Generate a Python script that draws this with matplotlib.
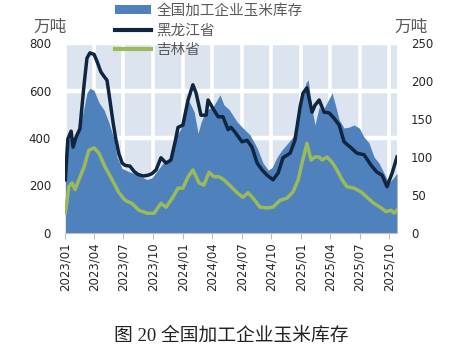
import matplotlib
matplotlib.use('Agg')
import matplotlib.pyplot as plt
import matplotlib.dates as mdates
import pandas as pd
from matplotlib.patches import Patch
from matplotlib.lines import Line2D

plt.rcParams['font.family'] = ['DejaVu Sans', 'Noto Sans CJK SC']

# ---- data (万吨) ----
national_dates = [
    '2023-01-02', '2023-01-16', '2023-02-01', '2023-02-07', '2023-02-23', '2023-03-10',
    '2023-03-19', '2023-04-01', '2023-04-16', '2023-05-02', '2023-05-17', '2023-06-02',
    '2023-06-11', '2023-06-27', '2023-07-18', '2023-08-06', '2023-08-27', '2023-09-12',
    '2023-09-27', '2023-10-10', '2023-11-01', '2023-11-19', '2023-12-11', '2023-12-26',
    '2024-01-11', '2024-01-20', '2024-02-05', '2024-02-17', '2024-02-26', '2024-03-13',
    '2024-04-03', '2024-04-25', '2024-05-07', '2024-05-23', '2024-06-17', '2024-07-05',
    '2024-07-27', '2024-08-18', '2024-09-05', '2024-09-21', '2024-10-03', '2024-10-19',
    '2024-11-03', '2024-11-22', '2024-12-07', '2024-12-23', '2025-01-07', '2025-01-16',
    '2025-01-23', '2025-02-04', '2025-02-13', '2025-02-26', '2025-03-07', '2025-03-22',
    '2025-04-07', '2025-04-19', '2025-04-29', '2025-05-14', '2025-05-30', '2025-06-14',
    '2025-06-30', '2025-07-15', '2025-07-30', '2025-08-15', '2025-08-30', '2025-09-15',
    '2025-09-30', '2025-10-16', '2025-10-25']
national_values = [
    370, 400, 395, 410, 488, 590,
    610, 600, 550, 518, 465, 395,
    320, 272, 258, 250, 235, 225,
    232, 255, 295, 310, 405, 440,
    530, 555, 510, 420, 465, 518,
    530, 582, 540, 520, 468, 442,
    413, 358, 295, 265, 275, 320,
    350, 380, 405, 490, 575, 632,
    645, 520, 455, 530, 510, 548,
    590, 530, 476, 442, 446, 455,
    442, 404, 380, 320, 295, 252,
    210, 236, 252]

hlj_dates = [
    '2023-01-02', '2023-01-10', '2023-01-20', '2023-01-26', '2023-02-04', '2023-02-16',
    '2023-03-01', '2023-03-10', '2023-03-19', '2023-04-01', '2023-04-10', '2023-04-22',
    '2023-05-02', '2023-05-11', '2023-05-20', '2023-05-30', '2023-06-08', '2023-06-17',
    '2023-06-27', '2023-07-06', '2023-07-21', '2023-08-03', '2023-08-15', '2023-08-31',
    '2023-09-15', '2023-09-27', '2023-10-10', '2023-10-25', '2023-11-10', '2023-11-25',
    '2023-12-08', '2023-12-17', '2024-01-01', '2024-01-17', '2024-02-01', '2024-02-11',
    '2024-02-26', '2024-03-13', '2024-03-19', '2024-04-03', '2024-04-19', '2024-05-04',
    '2024-05-20', '2024-05-29', '2024-06-10', '2024-07-02', '2024-07-18', '2024-08-02',
    '2024-08-18', '2024-09-02', '2024-09-18', '2024-10-06', '2024-10-22', '2024-11-06',
    '2024-11-28', '2024-12-13', '2024-12-29', '2025-01-07', '2025-01-19', '2025-02-04',
    '2025-02-13', '2025-02-26', '2025-03-13', '2025-03-29', '2025-04-13', '2025-04-29',
    '2025-05-14', '2025-06-05', '2025-06-23', '2025-07-15', '2025-08-06', '2025-08-24',
    '2025-09-09', '2025-09-24', '2025-10-10', '2025-10-25']
hlj_values = [
    70, 124, 134, 113, 126, 137,
    195, 230, 237, 235, 226, 212,
    206, 201, 175, 145, 122, 104,
    92, 89, 88, 81, 77, 75,
    76, 78, 83, 99, 92, 96,
    120, 139, 142, 175, 195, 184,
    155, 155, 175, 164, 153, 153,
    136, 139, 133, 120, 122, 113,
    92, 83, 76, 70, 79, 99,
    105, 122, 166, 184, 191, 159,
    168, 175, 159, 158, 151, 142,
    120, 112, 105, 103, 89, 80,
    76, 61, 79, 100]

jl_dates = [
    '2023-01-02', '2023-01-13', '2023-01-23', '2023-02-01', '2023-02-13', '2023-03-01',
    '2023-03-16', '2023-04-01', '2023-04-16', '2023-05-05', '2023-05-27', '2023-06-17',
    '2023-07-06', '2023-07-27', '2023-08-18', '2023-09-12', '2023-10-04', '2023-10-25',
    '2023-11-10', '2023-12-01', '2023-12-17', '2024-01-01', '2024-01-17', '2024-02-01',
    '2024-02-20', '2024-03-06', '2024-03-22', '2024-04-06', '2024-04-22', '2024-05-07',
    '2024-05-29', '2024-06-17', '2024-07-05', '2024-07-21', '2024-08-05', '2024-08-27',
    '2024-09-18', '2024-10-06', '2024-10-28', '2024-11-19', '2024-12-07', '2024-12-23',
    '2025-01-04', '2025-01-19', '2025-02-01', '2025-02-13', '2025-02-26', '2025-03-07',
    '2025-03-22', '2025-04-07', '2025-04-22', '2025-05-08', '2025-05-23', '2025-06-14',
    '2025-07-06', '2025-07-24', '2025-08-15', '2025-09-06', '2025-09-21', '2025-10-07',
    '2025-10-16', '2025-10-25']
jl_values = [
    26, 61, 66, 57, 70, 87,
    109, 112, 105, 87, 70, 53,
    43, 39, 30, 26, 26, 39,
    34, 47, 59, 59, 74, 83,
    66, 63, 80, 74, 74, 70,
    61, 53, 47, 53, 46, 34,
    33, 34, 43, 46, 54, 70,
    92, 118, 96, 100, 100, 96,
    100, 93, 83, 70, 61, 59,
    54, 47, 39, 33, 28, 30,
    26, 30]

left_ticks = [0, 200, 400, 600, 800]
right_ticks = [0, 50, 100, 150, 200, 250]
series_names = ['全国加工企业玉米库存', '黑龙江省', '吉林省']
unit_label = '万吨'
caption = '图 20 全国加工企业玉米库存'

c_area = '#4f81bd'
c_hlj = '#10253f'
c_jl = '#9bbb59'
c_panel = '#dce4f0'
c_text = '#262626'
c_gray = '#595959'

nd = pd.to_datetime(national_dates)
hd = pd.to_datetime(hlj_dates)
jd = pd.to_datetime(jl_dates)

fig = plt.figure(figsize=(4.59, 3.5), dpi=100)
ax = fig.add_axes([65 / 459, 1 - 233 / 350, (397 - 65) / 459, (233 - 43) / 350])
ax.set_facecolor(c_panel)
ax.fill_between(nd, national_values, 0, color=c_area, lw=0, zorder=2)
ax.set_ylim(0, 800)
ax.set_yticks(left_ticks)
ax.set_xlim(pd.Timestamp('2023-01-01'), pd.Timestamp('2025-10-25'))
ax.xaxis.set_major_locator(mdates.MonthLocator(bymonth=[1, 4, 7, 10]))
ax.xaxis.set_major_formatter(mdates.DateFormatter('%Y/%m'))
ax.grid(True, axis='y', color='white', lw=3.2)
ax.grid(True, axis='x', color='white', lw=2.6)
ax.set_axisbelow(True)
for s in ['top', 'left', 'right']:
    ax.spines[s].set_visible(False)
ax.spines['bottom'].set_color('#bfbfbf')
ax.spines['bottom'].set_zorder(3)
ax.tick_params(axis='y', length=0, pad=10, labelsize=8.5, labelcolor=c_text)
ax.tick_params(axis='x', length=4, color='#bfbfbf', pad=3, labelsize=8.5,
               labelcolor=c_text, labelrotation=90)

ax2 = ax.twinx()
ax2.plot(hd, hlj_values, color=c_hlj, lw=2.5, solid_joinstyle='round', zorder=3)
ax2.plot(jd, jl_values, color=c_jl, lw=2.5, solid_joinstyle='round', zorder=3)
ax2.set_ylim(0, 250)
ax2.set_yticks(right_ticks)
for s in ax2.spines.values():
    s.set_visible(False)
ax2.tick_params(axis='y', length=0, pad=10, labelsize=8.5, labelcolor=c_text)
ax2.patch.set_visible(False)

fig.text(50 / 459, 1 - 27 / 350, unit_label, ha='center', va='center',
         fontsize=12, color=c_gray)
fig.text(411 / 459, 1 - 27 / 350, unit_label, ha='center', va='center',
         fontsize=12, color=c_gray)

handles = [Patch(facecolor=c_area, edgecolor='none'),
           Line2D([], [], color=c_hlj, lw=3),
           Line2D([], [], color=c_jl, lw=3)]
fig.legend(handles, series_names, loc='upper left',
           bbox_to_anchor=(115 / 459, 1 - 3 / 350), frameon=False,
           fontsize=10.5, labelcolor=c_gray, handlelength=2.5, handleheight=0.6,
           handletextpad=0.35, labelspacing=0.32, borderpad=0, borderaxespad=0)

fig.text(231 / 459, 1 - 336 / 350, caption, ha='center', va='center',
         fontsize=13.5, color='#222222',
         family=['Liberation Serif', 'Noto Sans CJK SC'])

fig.savefig('out.png', dpi=100)
